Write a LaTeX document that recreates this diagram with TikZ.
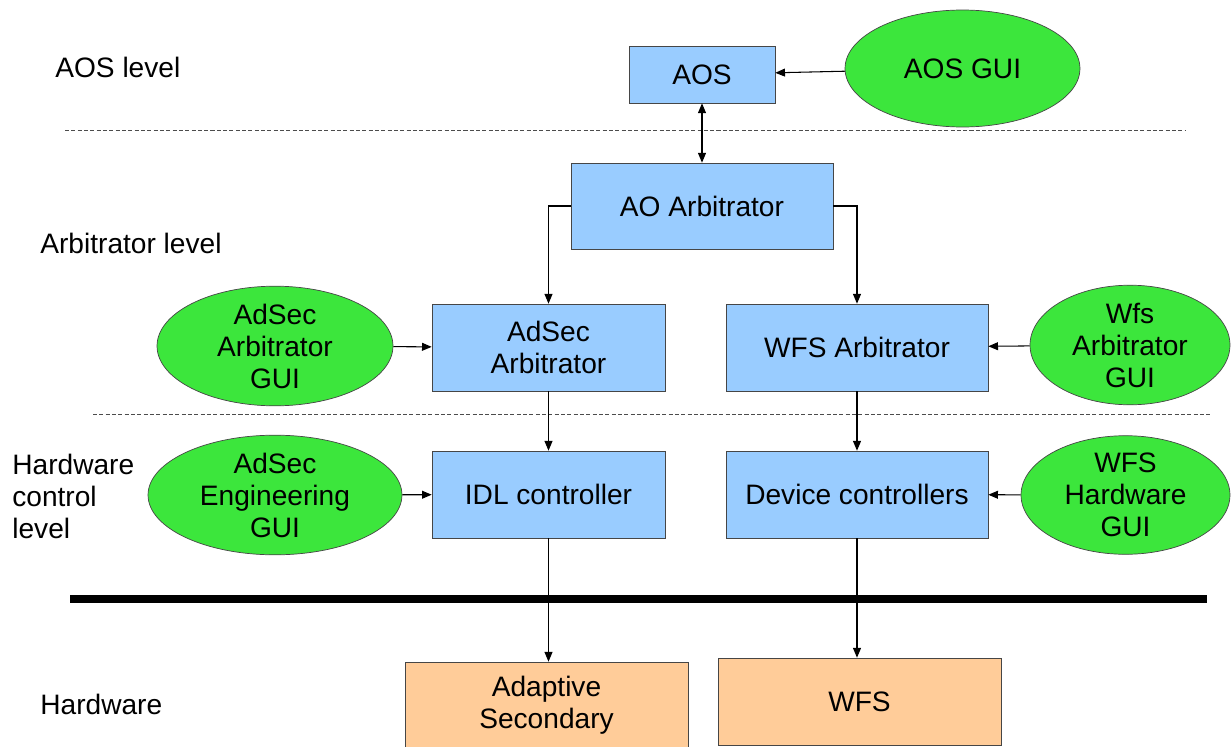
\documentclass[tikz,border=0pt]{standalone}
\usepackage{fontspec}
\setmainfont{Liberation Sans}
\usetikzlibrary{arrows.meta}
\usetikzlibrary{shapes.geometric}

\definecolor{boxblue}{RGB}{153,204,255}
\definecolor{guigreen}{RGB}{60,230,60}
\definecolor{hwtan}{RGB}{255,204,153}
\definecolor{edgegray}{RGB}{70,70,70}

\begin{document}
\begin{tikzpicture}[>={Triangle[length=5.5pt,width=4.5pt]},x=0.02cm,y=-0.02cm,
  font=\fontsize{16}{18.2}\selectfont,
  blk/.style={draw=edgegray,fill=boxblue,align=center,inner sep=0pt,minimum height=1.74cm},
  hwbox/.style={draw=edgegray,fill=hwtan,align=center,inner sep=0pt,minimum width=5.66cm,minimum height=1.74cm},
  gui/.style={ellipse,draw=edgegray,fill=guigreen,align=center,inner sep=0pt},
  lvl/.style={anchor=west,align=left,inner sep=0pt},
  sepline/.style={draw=gray!60!black,line width=0.55pt,dash pattern=on 2.3pt off 1.3pt},
  link/.style={->,line width=0.6pt}]
  \useasboundingbox (0,0) rectangle (1232,747);

  \node[lvl] (lvlaos) at (55,67) {AOS level};
  \node[lvl] (lvlarb) at (40,243) {Arbitrator level};
  \node[lvl] (lvlhwc) at (12,496) {Hardware\\control\\level};
  \node[lvl] (lvlhw) at (40,704) {Hardware};

  \draw[sepline] (65,130) -- (1185,130);
  \draw[sepline] (93,414) -- (1212,414);
  \draw[line width=4pt] (70,599) -- (1207,599);

  \node[blk,minimum width=2.92cm,minimum height=1.14cm] (aos) at (702,74.5) {AOS};
  \node[gui,minimum width=4.70cm,minimum height=2.34cm] (aosgui) at (962.5,68.5) {AOS GUI};
  \node[blk,minimum width=5.24cm,minimum height=1.72cm] (aoarb) at (702,206) {AO Arbitrator};

  \node[blk,minimum width=4.66cm] (adarb) at (548.5,347.5) {AdSec\\Arbitrator};
  \node[blk,minimum width=5.24cm] (wfsarb) at (857,347.5) {WFS Arbitrator};
  \node[gui,minimum width=4.72cm,minimum height=2.24cm] (adarbgui) at (275,346) {AdSec\\Arbitrator\\GUI};
  \node[gui,minimum width=4.00cm,minimum height=2.28cm] (wfsarbgui) at (1130,345) {Wfs\\Arbitrator\\GUI};

  \node[blk,minimum width=4.66cm] (idl) at (548.5,494.5) {IDL controller};
  \node[blk,minimum width=5.24cm] (devc) at (857,494.5) {Device controllers};
  \node[gui,minimum width=5.08cm,minimum height=2.32cm] (adenggui) at (275,495) {AdSec\\Engineering\\GUI};
  \node[gui,minimum width=4.18cm,minimum height=2.32cm] (wfshwgui) at (1125.5,495) {WFS\\Hardware\\GUI};

  \node[hwbox] (asec) at (546.5,705.5) {Adaptive\\Secondary};
  \node[hwbox] (wfshw) at (859.5,701.5) {WFS};

  \draw[link] (aosgui) -- (aos);
  \draw[link,<->] (aos) -- (aoarb);
  \draw[link] (aoarb.west) -| (adarb.north);
  \draw[link] (aoarb.east) -| (wfsarb.north);
  \draw[link] (adarbgui) -- (adarb);
  \draw[link] (wfsarbgui) -- (wfsarb);
  \draw[link] (adarb) -- (idl);
  \draw[link] (wfsarb) -- (devc);
  \draw[link] (adenggui) -- (idl);
  \draw[link] (wfshwgui) -- (devc);
  \draw[link] (idl.south) -- (idl.south |- asec.north);
  \draw[link] (devc.south) -- (devc.south |- wfshw.north);
\end{tikzpicture}
\end{document}
